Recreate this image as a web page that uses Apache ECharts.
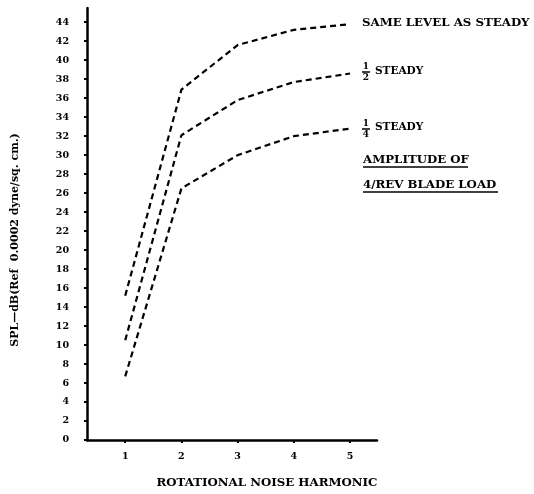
<!DOCTYPE html>
<html>
<head>
<meta charset="utf-8">
<script src="https://cdn.jsdelivr.net/npm/echarts@6/dist/echarts.min.js"></script>
<style>
html,body{margin:0;padding:0;background:#fff;}
#chart{width:534px;height:494px;}
</style>
</head>
<body>
<div id="chart"></div>
<script>
var harmonics = [1, 2, 3, 4, 5];
var yTicks = [0, 2, 4, 6, 8, 10, 12, 14, 16, 18, 20, 22, 24, 26, 28, 30, 32, 34, 36, 38, 40, 42, 44];
var sameLevel = [15.2, 36.9, 41.6, 43.2, 43.8];
var halfSteady = [10.5, 32.1, 35.8, 37.7, 38.6];
var quarterSteady = [6.7, 26.5, 30.0, 32.0, 32.8];

var FONT = '"DejaVu Serif", "Liberation Serif", serif';

function pairs(ys) { return harmonics.map(function (x, i) { return [x, ys[i]]; }); }

var lineStyle = { color: '#000', width: 2.2, type: [6, 4] };

var chart = echarts.init(document.getElementById('chart'));
chart.setOption({
  animation: false,
  backgroundColor: '#fff',
  grid: { left: 87, right: 157, top: 8, bottom: 54 },
  xAxis: {
    type: 'value', min: 0.32, max: 5.48,
    name: 'ROTATIONAL NOISE HARMONIC', nameLocation: 'middle', nameGap: 37,
    nameTextStyle: { fontFamily: FONT, fontWeight: 'bold', fontSize: 11.8, color: '#000', padding: [0, 0, 0, 70] },
    splitLine: { show: false },
    axisLine: { lineStyle: { color: '#000', width: 2.5 } },
    axisTick: { customValues: harmonics, length: 3, lineStyle: { color: '#000', width: 2 } },
    axisLabel: { customValues: harmonics, margin: 12, fontFamily: FONT, fontWeight: 'bold', fontSize: 9.5, color: '#000' }
  },
  yAxis: {
    type: 'value', min: 0, max: 45.5,
    splitLine: { show: false },
    axisLine: { show: true, lineStyle: { color: '#000', width: 2.5 } },
    axisTick: { show: true, customValues: yTicks, length: 3, lineStyle: { color: '#000', width: 2 } },
    axisLabel: { customValues: yTicks, margin: 18, fontFamily: FONT, fontWeight: 'bold', fontSize: 9.5, color: '#000' }
  },
  series: [
    { type: 'line', data: pairs(sameLevel), symbol: 'none', lineStyle: lineStyle },
    { type: 'line', data: pairs(halfSteady), symbol: 'none', lineStyle: lineStyle },
    { type: 'line', data: pairs(quarterSteady), symbol: 'none', lineStyle: lineStyle }
  ],
  graphic: [
    { type: 'text', x: 15, y: 240, rotation: Math.PI / 2,
      style: { text: 'SPL—dB(Ref  0.0002 dyne/sq. cm.)', fontFamily: FONT, fontWeight: 'bold', fontSize: 11, fill: '#000', align: 'center', verticalAlign: 'middle' } },
    { type: 'text', x: 362, y: 23,
      style: { text: 'SAME LEVEL AS STEADY', fontFamily: FONT, fontWeight: 'bold', fontSize: 11.8, fill: '#000', verticalAlign: 'middle' } },
    { type: 'text', x: 366, y: 67, style: { text: '1', fontFamily: FONT, fontWeight: 'bold', fontSize: 9, fill: '#000', align: 'center', verticalAlign: 'middle' } },
    { type: 'line', shape: { x1: 362, y1: 72, x2: 370, y2: 72 }, style: { stroke: '#000', lineWidth: 1.5 } },
    { type: 'text', x: 366, y: 78, style: { text: '2', fontFamily: FONT, fontWeight: 'bold', fontSize: 9, fill: '#000', align: 'center', verticalAlign: 'middle' } },
    { type: 'text', x: 375, y: 71, style: { text: 'STEADY', fontFamily: FONT, fontWeight: 'bold', fontSize: 10.5, fill: '#000', verticalAlign: 'middle' } },
    { type: 'text', x: 366, y: 124, style: { text: '1', fontFamily: FONT, fontWeight: 'bold', fontSize: 9, fill: '#000', align: 'center', verticalAlign: 'middle' } },
    { type: 'line', shape: { x1: 362, y1: 129, x2: 370, y2: 129 }, style: { stroke: '#000', lineWidth: 1.5 } },
    { type: 'text', x: 366, y: 135, style: { text: '4', fontFamily: FONT, fontWeight: 'bold', fontSize: 9, fill: '#000', align: 'center', verticalAlign: 'middle' } },
    { type: 'text', x: 375, y: 127, style: { text: 'STEADY', fontFamily: FONT, fontWeight: 'bold', fontSize: 10.5, fill: '#000', verticalAlign: 'middle' } },
    { type: 'text', x: 363, y: 160, style: { text: 'AMPLITUDE OF', fontFamily: FONT, fontWeight: 'bold', fontSize: 11.8, fill: '#000', verticalAlign: 'middle' } },
    { type: 'line', shape: { x1: 363, y1: 167, x2: 468, y2: 167 }, style: { stroke: '#000', lineWidth: 1.5 } },
    { type: 'text', x: 363, y: 185, style: { text: '4/REV BLADE LOAD', fontFamily: FONT, fontWeight: 'bold', fontSize: 11.8, fill: '#000', verticalAlign: 'middle' } },
    { type: 'line', shape: { x1: 363, y1: 192, x2: 498, y2: 192 }, style: { stroke: '#000', lineWidth: 1.5 } }
  ]
});
</script>
</body>
</html>
